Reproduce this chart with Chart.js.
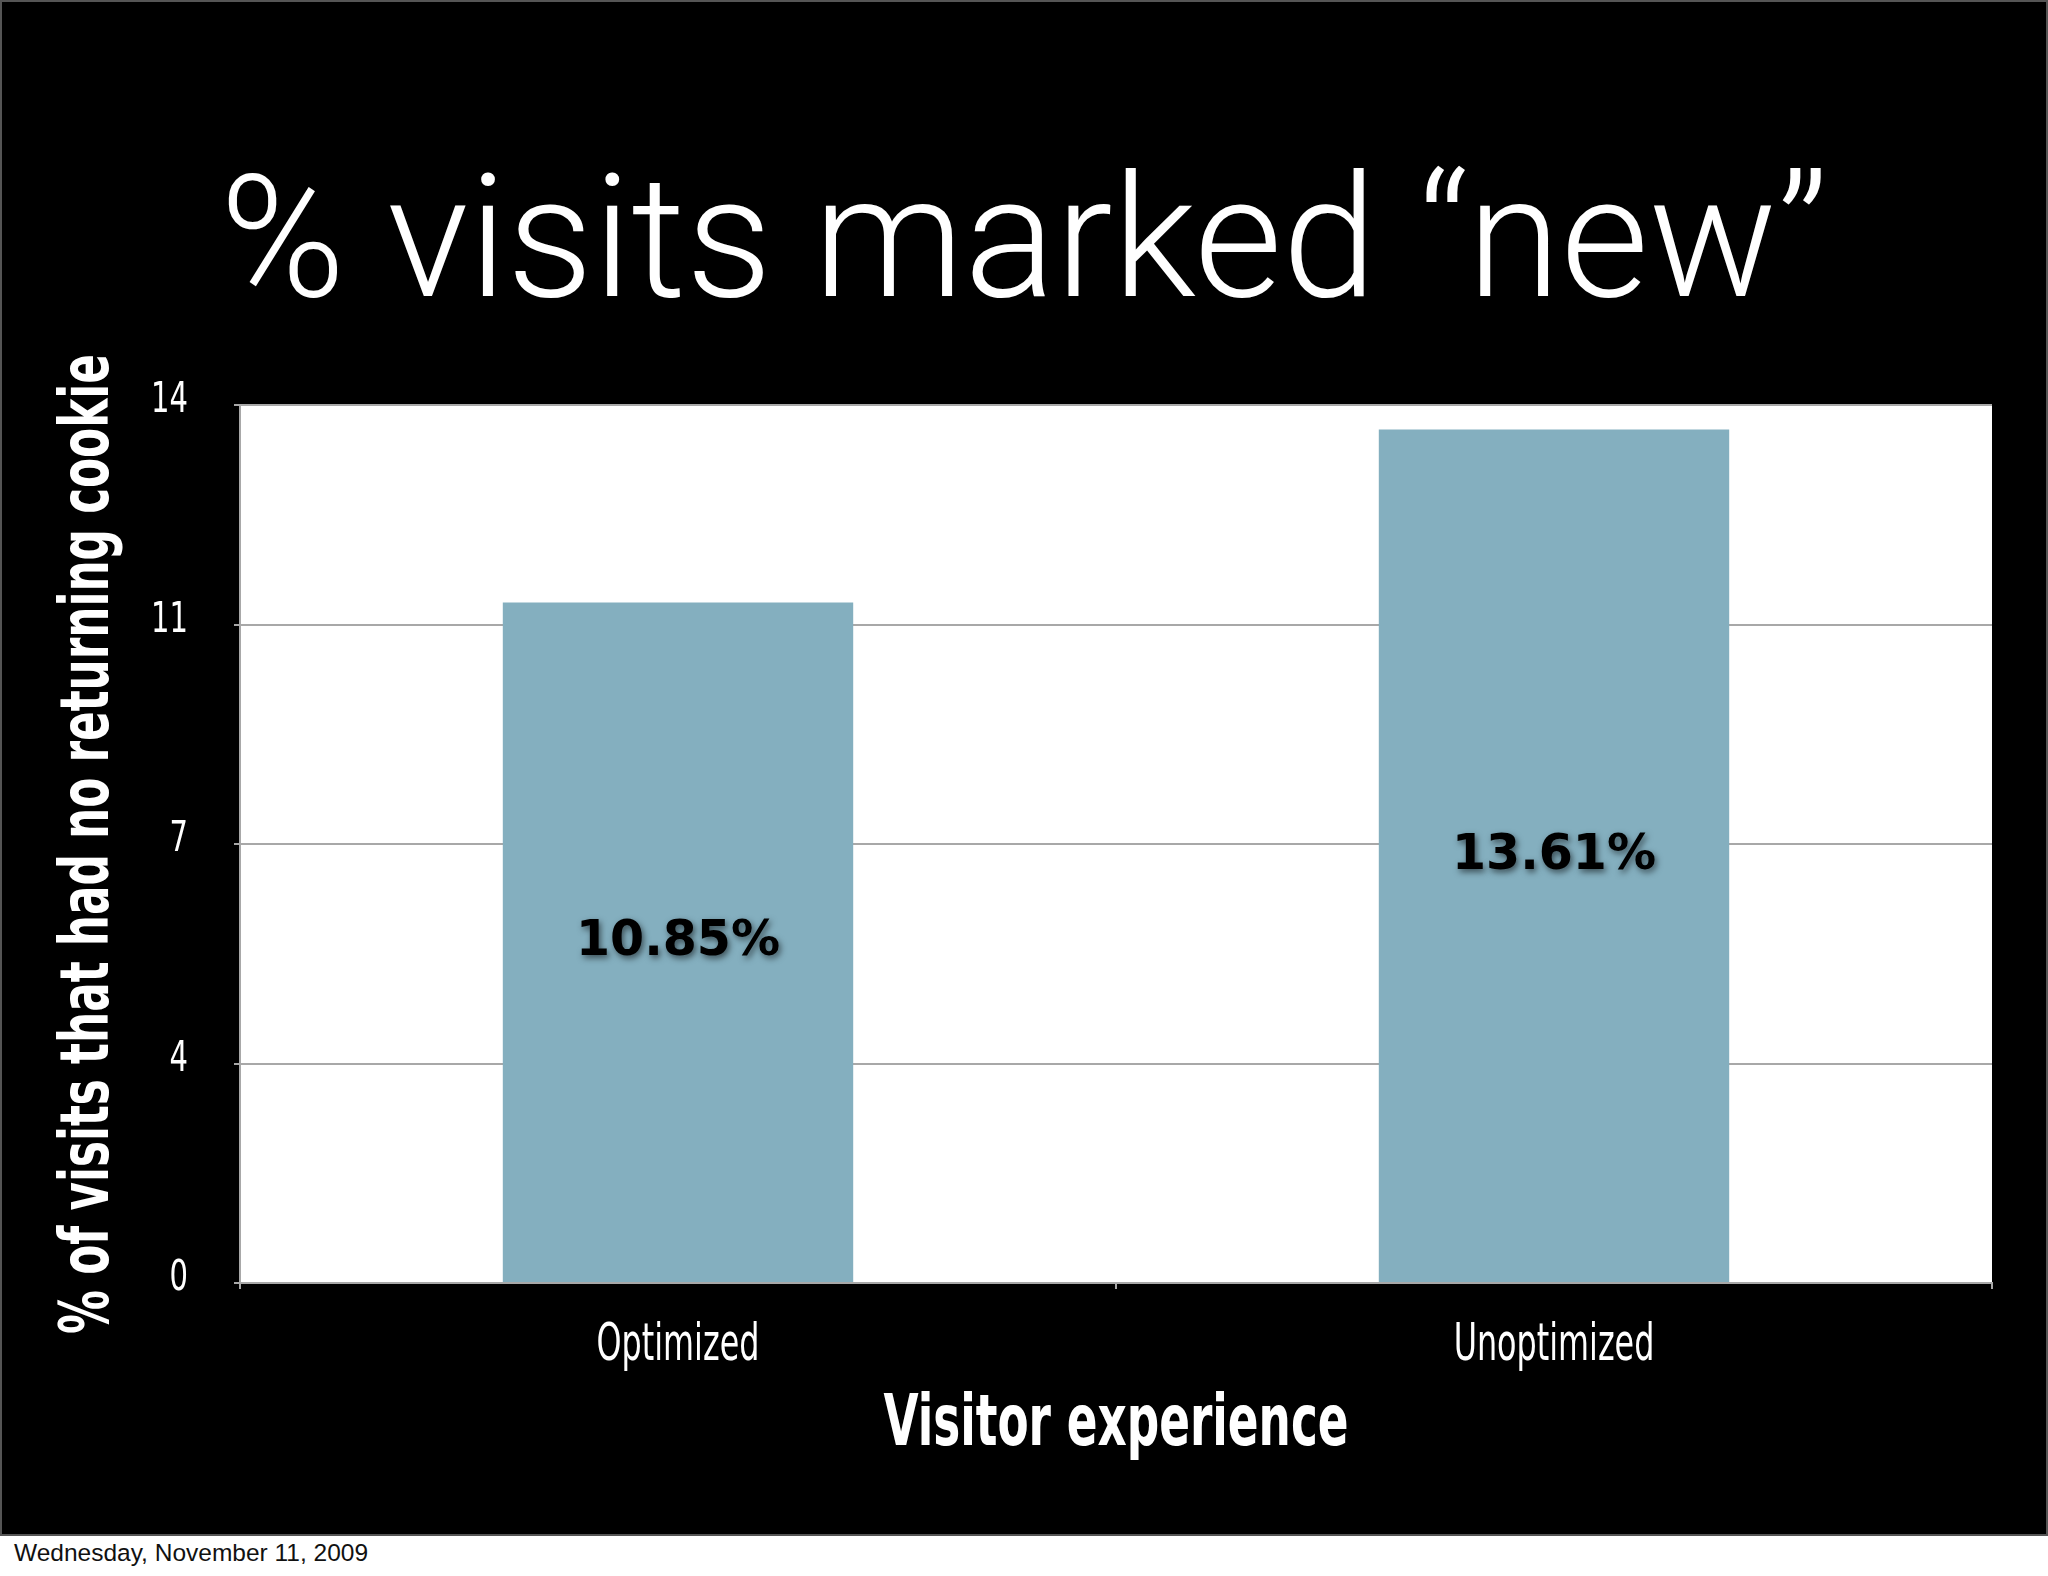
<!DOCTYPE html>
<html>
<head>
<meta charset="utf-8">
<script src="https://cdn.jsdelivr.net/npm/chart.js@4.4.1/dist/chart.umd.min.js"></script>
<style>
  html, body { margin: 0; padding: 0; background: #fff; }
  #slide { position: absolute; left: 0; top: 0; width: 2048px; height: 1536px; background: #000; }
  #slide canvas { position: absolute; left: 0; top: 0; }
  #frame { position: absolute; left: 0; top: 0; width: 2048px; height: 1536px; box-sizing: border-box; border: 2px solid #555; pointer-events: none; }
  #date { position: absolute; left: 14px; top: 1539px; font: 24.5px "Liberation Sans", Arial, sans-serif; color: #111; }
</style>
</head>
<body>
<div id="slide">
  <canvas id="chart" width="2048" height="1536"></canvas>
  <div id="frame"></div>
</div>
<div id="date">Wednesday, November 11, 2009</div>

<script>
// chart data
const categories = ['Optimized', 'Unoptimized'];
const newVisitPct = [10.85, 13.61];
const yTickLabels = ['0', '4', '7', '11', '14']; // keynote rounds the 3.5 steps
const yMax = 14;
const xTitle = 'Visitor experience';
const yTitle = '% of visits that had no returning cookie';

// no condensed font installed, so squeeze DejaVu Sans Condensed horizontally
const condFont = '"DejaVu Sans Condensed", "DejaVu Sans", sans-serif';

function squeezed(ctx, text, x, y, sx, rot) {
  ctx.save();
  ctx.translate(x, y);
  if (rot) ctx.rotate(rot);
  ctx.scale(sx, 1);
  ctx.fillText(text, 0, 0);
  ctx.restore();
}

// white plot background
const plotBg = {
  id: 'plotBg',
  beforeDraw(chart) {
    const { ctx, chartArea: a } = chart;
    ctx.save();
    ctx.fillStyle = '#fff';
    ctx.fillRect(a.left, a.top, a.right - a.left, a.bottom - a.top);
    ctx.restore();
  }
};

// tick labels and axis titles in a narrow face
const axisText = {
  id: 'axisText',
  afterDraw(chart) {
    const { ctx, chartArea: a } = chart;
    const xs = chart.scales.x, ys = chart.scales.y;
    ctx.save();
    ctx.fillStyle = '#fff';

    ctx.font = '43px ' + condFont;
    ctx.textAlign = 'right';
    ctx.textBaseline = 'middle';
    ys.ticks.forEach((t, i) => {
      squeezed(ctx, yTickLabels[i], a.left - 52, ys.getPixelForValue(t.value) - 4, 0.75);
    });

    ctx.font = '52px ' + condFont;
    ctx.textAlign = 'center';
    ctx.textBaseline = 'alphabetic';
    categories.forEach((c, i) => {
      squeezed(ctx, c, xs.getPixelForTick(i), a.bottom + 77, 0.68);
    });

    ctx.font = 'bold 72px ' + condFont;
    squeezed(ctx, xTitle, (a.left + a.right) / 2, a.bottom + 162, 0.7);

    ctx.font = 'bold 68px ' + condFont;
    squeezed(ctx, yTitle, 108, (a.top + a.bottom) / 2, 0.715, -Math.PI / 2);
    ctx.restore();
  }
};

// value labels in the middle of each bar
const barLabels = {
  id: 'barLabels',
  afterDatasetsDraw(chart) {
    const ctx = chart.ctx;
    const meta = chart.getDatasetMeta(0);
    ctx.save();
    ctx.font = 'bold 50px "DejaVu Sans", sans-serif';
    ctx.textAlign = 'center';
    ctx.textBaseline = 'middle';
    ctx.fillStyle = '#000';
    ctx.shadowColor = 'rgba(0,0,0,0.55)';
    ctx.shadowBlur = 6;
    ctx.shadowOffsetX = 2;
    ctx.shadowOffsetY = 3;
    meta.data.forEach((bar, i) => {
      const v = chart.data.datasets[0].data[i];
      squeezed(ctx, v.toFixed(2) + '%', bar.x, (bar.y + bar.base) / 2, 0.98);
    });
    ctx.restore();
  }
};

new Chart(document.getElementById('chart'), {
  type: 'bar',
  data: {
    labels: categories,
    datasets: [{
      data: newVisitPct,
      backgroundColor: '#84afbf',
      borderWidth: 0,
      barPercentage: 0.4,
      categoryPercentage: 1.0
    }]
  },
  options: {
    responsive: false,
    animation: false,
    devicePixelRatio: 1,
    layout: { padding: { left: 56, right: 56, top: 0, bottom: 0 } },
    plugins: {
      legend: { display: false },
      tooltip: { enabled: false },
      title: {
        display: true,
        text: '% visits marked “new”',
        color: '#fff',
        font: { family: 'Roboto, "Liberation Sans", sans-serif', size: 170, weight: 300, lineHeight: 1.2 },
        padding: { top: 151, bottom: 50 }
      }
    },
    scales: {
      x: {
        grid: { drawOnChartArea: false, drawTicks: true, tickLength: 6, color: '#a8a8a8', lineWidth: 2 },
        border: { display: true, color: '#a8a8a8', width: 2 },
        ticks: { display: false },
        afterFit(scale) { scale.height = 253; }
      },
      y: {
        min: 0,
        max: yMax,
        ticks: { display: false, stepSize: 3.5 },
        grid: { color: '#a8a8a8', lineWidth: 2, tickLength: 6 },
        border: { display: true, color: '#a8a8a8', width: 2 },
        afterFit(scale) { scale.width = 184; }
      }
    }
  },
  plugins: [plotBg, barLabels, axisText]
});
</script>
</body>
</html>
